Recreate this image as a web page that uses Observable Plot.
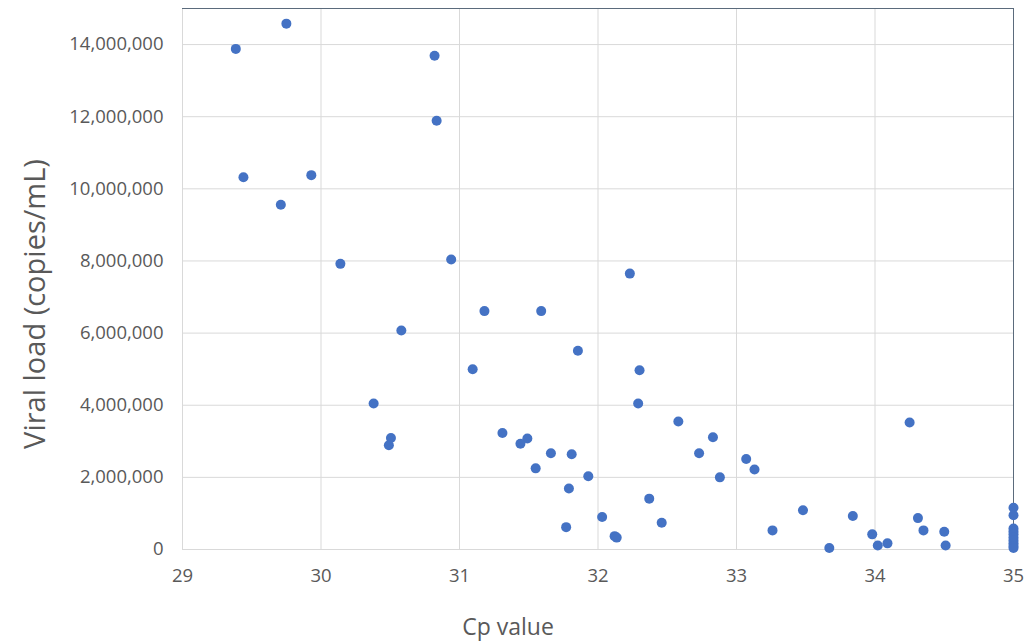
<!DOCTYPE html>
<html>
<head>
<meta charset="utf-8">
<script src="https://cdn.jsdelivr.net/npm/d3@7"></script>
<script src="https://cdn.jsdelivr.net/npm/@observablehq/plot@0.6"></script>
<style>
  html, body { margin: 0; padding: 0; background: #fff; }
  #chart svg { display: block; }
</style>
</head>
<body>
<div id="chart"></div>
<script>
// Cp values (x) and viral loads (y, copies/mL)
const cpValues = [
  29.385, 29.75, 29.44, 29.93, 29.71, 30.14, 30.82, 30.835, 30.94, 32.23,
  30.58, 31.18, 31.59, 31.855, 31.095, 32.30, 30.38, 32.29, 32.58, 30.505,
  30.49, 31.31, 31.49, 31.44, 31.66, 31.81, 31.55, 31.93, 31.79, 32.37,
  32.03, 32.46, 31.77, 32.12, 32.135, 34.25, 32.83, 32.73, 33.07, 33.13,
  32.88, 33.48, 33.84, 34.31, 33.26, 34.35, 34.50, 33.98, 34.09, 34.02,
  33.67, 34.51, 35, 35, 35, 35, 35, 35, 35, 35, 35, 35
];
const viralLoads = [
  13880000, 14580000, 10320000, 10380000, 9560000, 7920000, 13690000, 11890000, 8040000, 7650000,
  6070000, 6610000, 6610000, 5510000, 5000000, 4970000, 4050000, 4050000, 3550000, 3090000,
  2890000, 3230000, 3080000, 2930000, 2670000, 2640000, 2250000, 2030000, 1690000, 1410000,
  900000, 740000, 620000, 370000, 330000, 3520000, 3110000, 2670000, 2510000, 2220000,
  2000000, 1090000, 930000, 870000, 530000, 530000, 490000, 420000, 170000, 110000,
  40000, 110000, 1160000, 950000, 580000, 500000, 420000, 330000, 250000, 170000, 100000, 40000
];
const xTicks = [29, 30, 31, 32, 33, 34, 35];
const yTicks = [0, 2000000, 4000000, 6000000, 8000000, 10000000, 12000000, 14000000];
const xTitle = "Cp value";
const yTitle = "Viral load (copies/mL)";

const points = cpValues.map((cp, i) => ({cp, load: viralLoads[i]}));

const textColor = "#595959";
const font = "'Open Sans', 'Noto Sans', sans-serif";

const chart = Plot.plot({
  width: 1035,
  height: 643,
  marginLeft: 182,
  marginRight: 22,
  marginTop: 8,
  marginBottom: 94,
  style: {fontFamily: font, fontSize: "18px", color: textColor, background: "#fff"},
  x: {domain: [29, 35], ticks: xTicks},
  y: {domain: [0, 15000000], ticks: yTicks},
  marks: [
    Plot.gridX(xTicks, {stroke: "#d9d9d9", strokeOpacity: 1}),
    Plot.gridY(yTicks, {stroke: "#d9d9d9", strokeOpacity: 1}),
    Plot.ruleY([15000000], {stroke: "#5b6b7c", strokeWidth: 1}),
    Plot.ruleX([35], {stroke: "#5b6b7c", strokeWidth: 1}),
    Plot.axisX(xTicks, {tickSize: 0, tickPadding: 19, label: null, tickFormat: d3.format("d"), fill: textColor, fontSize: 18.5}),
    Plot.axisY(yTicks, {tickSize: 0, tickPadding: 19, label: null, tickFormat: d3.format(","), fill: textColor, fontSize: 18.5}),
    Plot.dot(points, {x: "cp", y: "load", r: 5, fill: "#4472C4", stroke: "none"}),
    Plot.text([xTitle], {frameAnchor: "bottom", textAnchor: "middle", dx: -90, dy: 85, fontSize: 23, fill: textColor}),
    Plot.text([yTitle], {frameAnchor: "left", textAnchor: "middle", rotate: -90, dx: -147, dy: 25, fontSize: 29, fill: textColor})
  ]
});
document.getElementById("chart").appendChild(chart);
</script>
</body>
</html>
